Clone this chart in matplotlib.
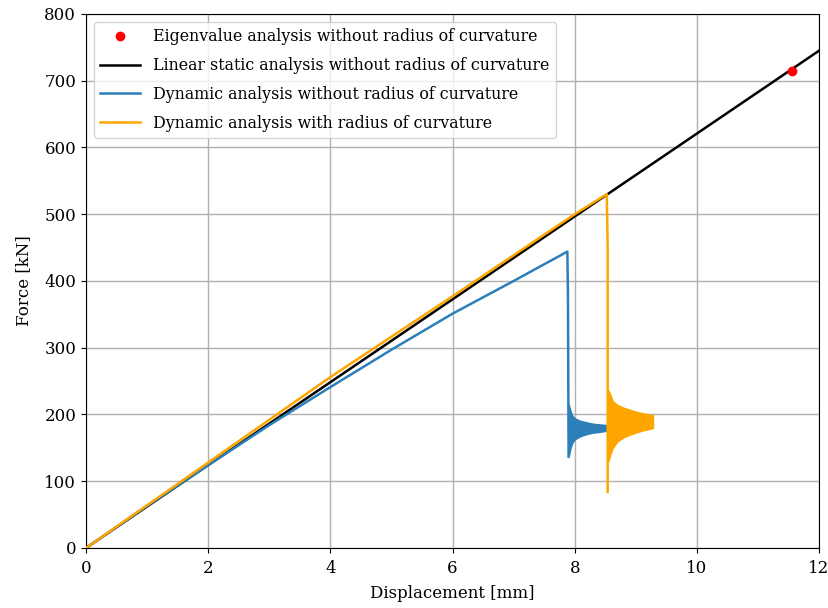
import matplotlib
matplotlib.use("Agg")
import matplotlib.pyplot as plt
from matplotlib.lines import Line2D

plt.rcParams['font.family'] = ['DejaVu Serif']

# Eigenvalue buckling point (no radius of curvature)
eig_x = [11.55]
eig_y = [714]

# Linear static response (no radius of curvature)
lin_x = [0, 12]
lin_y = [0, 745]

# Dynamic analysis without radius of curvature: loading path and sudden drop
dyn_a_x = [0, 1, 2, 3, 4, 5, 6, 7, 7.88, 7.89, 7.90]
dyn_a_y = [0, 63, 124, 184, 241, 297, 351, 400, 444, 376, 137]
# thicker stretch of the drop
dyn_a_spike_x = [7.877, 7.897]
dyn_a_spike_lo = [349, 349]
dyn_a_spike_hi = [376, 376]
# post-buckling oscillation envelope
dyn_a_env_x = [7.90, 7.93, 7.96, 8.00, 8.10, 8.20, 8.30, 8.40, 8.53]
dyn_a_env_hi = [215, 205, 198, 194, 190, 188, 186, 185, 184]
dyn_a_env_lo = [137, 150, 158, 163, 168, 171, 173, 174, 176]

# Dynamic analysis with radius of curvature
dyn_b_x = [0, 2, 4, 6, 8, 8.525, 8.54, 8.54]
dyn_b_y = [0, 128, 256, 377, 500, 530, 451, 84]
dyn_b_spike_x = [8.528, 8.552]
dyn_b_spike_lo = [352, 352]
dyn_b_spike_hi = [451, 451]
dyn_b_env_x = [8.55, 8.58, 8.62, 8.70, 8.80, 8.90, 9.00, 9.10, 9.20, 9.28]
dyn_b_env_hi = [236, 230, 220, 214, 210, 207, 204, 202, 200, 199]
dyn_b_env_lo = [130, 140, 150, 160, 166, 170, 173, 176, 178, 180]

blue = '#2c7fb8'
orange = '#ffa500'

fig = plt.figure(figsize=(8.29, 6.08), dpi=100)
ax = fig.add_axes([0.1037, 0.0987, 0.8843, 0.8783])

ax.plot(lin_x, lin_y, color='black', lw=1.8, zorder=3)

ax.plot(dyn_a_x, dyn_a_y, color=blue, lw=1.8, zorder=4)
ax.fill_between(dyn_a_spike_x, dyn_a_spike_lo, dyn_a_spike_hi, color=blue, lw=0, zorder=4)
ax.fill_between(dyn_a_env_x, dyn_a_env_lo, dyn_a_env_hi, color=blue, lw=1.2, edgecolor=blue, zorder=4)

ax.plot(dyn_b_x, dyn_b_y, color=orange, lw=1.8, zorder=5)
ax.fill_between(dyn_b_spike_x, dyn_b_spike_lo, dyn_b_spike_hi, color=orange, lw=0, zorder=5)
ax.fill_between(dyn_b_env_x, dyn_b_env_lo, dyn_b_env_hi, color=orange, lw=1.2, edgecolor=orange, zorder=5)

ax.scatter(eig_x, eig_y, color='red', s=36, zorder=6)

ax.set_xlim(0, 12)
ax.set_ylim(0, 800)
ax.set_xticks(range(0, 13, 2))
ax.set_yticks(range(0, 801, 100))
ax.grid(True, color='#b0b0b0', lw=1.0)
ax.set_axisbelow(True)
ax.tick_params(labelsize=12)
ax.tick_params(axis='x', pad=5)
ax.set_xlabel('Displacement [mm]', fontsize=12, labelpad=6)
ax.set_ylabel('Force [kN]', fontsize=12, labelpad=9)

handles = [
    Line2D([], [], marker='o', ls='', color='red', markersize=6),
    Line2D([], [], color='black', lw=1.8),
    Line2D([], [], color=blue, lw=1.8),
    Line2D([], [], color=orange, lw=1.8),
]
labels = [
    'Eigenvalue analysis without radius of curvature',
    'Linear static analysis without radius of curvature',
    'Dynamic analysis without radius of curvature',
    'Dynamic analysis with radius of curvature',
]
ax.legend(handles, labels, loc='upper left', fontsize=11.4, handlelength=2.5,
          borderpad=0.4, labelspacing=0.75, handletextpad=0.85)

fig.savefig('out.png', dpi=100)
